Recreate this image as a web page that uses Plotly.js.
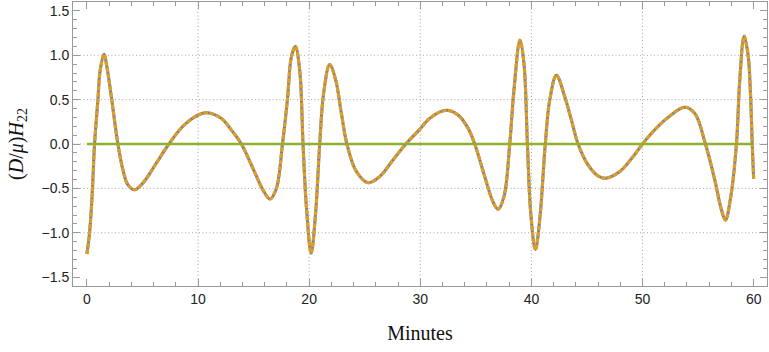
<!DOCTYPE html>
<html>
<head>
<meta charset="utf-8">
<script src="https://cdn.plot.ly/plotly-3.0.1.min.js"></script>
<style>
  html, body { margin: 0; padding: 0; background: #fff; }
  #chart { width: 769px; height: 352px; }
</style>
</head>
<body>
<div id="chart"></div>
<script>
// waveform (minutes, (D/mu) H22)
const minutes = [
  0, 0.24, 0.48, 0.69, 0.99, 1.2, 1.55, 1.8, 2.22, 2.79, 3.24, 3.69, 4.29, 5.04, 6.24, 7.38, 8.64, 9.99,
  10.8, 12.1, 13.0, 13.9, 14.94, 15.84, 16.47, 17.05, 17.6, 18.04, 18.4, 18.76, 19.15, 19.45, 19.75, 20.18,
  20.58, 20.95, 21.3, 21.85, 22.39, 22.9, 23.4, 24.25, 25.29, 26.35, 27.54, 28.7, 29.95, 30.85,
  32.3, 33.4, 34.3, 34.9, 35.8, 36.54, 37.0, 37.53, 38.05, 38.43, 38.97, 39.33, 39.64, 39.94, 40.36,
  40.75, 41.25, 41.65, 42.25, 43.0, 43.6, 44.2, 45.1, 46.0, 46.7, 47.95, 49.14, 50.0, 51.1,
  52.3, 53.8, 54.7, 55.66, 56.5, 57.1, 57.46, 57.94, 58.45, 58.75, 59.14, 59.5, 59.72, 59.87, 60
];
const h22 = [
  -1.24, -1.0, -0.555, 0, 0.495, 0.833, 1.01, 0.87, 0.514, 0, -0.29, -0.46, -0.515, -0.44, -0.217, 0, 0.2, 0.326,
  0.352, 0.289, 0.157, 0, -0.274, -0.517, -0.619, -0.5, 0, 0.495, 0.98, 1.10, 0.832, 0, -0.705, -1.23,
  -0.78, 0, 0.57, 0.896, 0.72, 0.345, 0, -0.31, -0.435, -0.367, -0.18, 0, 0.165, 0.289,
  0.38, 0.326, 0.177, 0, -0.367, -0.65, -0.735, -0.593, 0, 0.607, 1.17, 0.908, 0, -0.78, -1.19,
  -0.85, 0, 0.495, 0.776, 0.532, 0.27, 0, -0.236, -0.36, -0.385, -0.31, -0.143, 0, 0.16,
  0.3, 0.415, 0.345, 0, -0.405, -0.742, -0.858, -0.593, 0, 0.72, 1.215, 1.0, 0.55, 0, -0.39
];
const zeroX = [0, 60];
const zeroY = [0, 0];
const gridX = [10, 20, 30, 40, 50];
const gridY = [-1, -0.5, 0, 0.5, 1];

const frameColor = "#9a9a9a";
const labelFont = { family: "'Liberation Sans', Arial, sans-serif", size: 14, color: "#222" };
const titleFont = { family: "'Liberation Serif', 'Times New Roman', serif", size: 20, color: "#111" };

const traces = [
  {
    x: minutes, y: h22, mode: "lines", type: "scatter",
    line: { color: "#5E81B5", width: 3, shape: "spline", smoothing: 1 },
    hoverinfo: "skip"
  },
  {
    x: minutes, y: h22, mode: "lines", type: "scatter",
    line: { color: "#E19C24", width: 3.2, shape: "spline", smoothing: 1, dash: "5px,1.3px" },
    hoverinfo: "skip"
  },
  {
    x: zeroX, y: zeroY, mode: "lines", type: "scatter",
    line: { color: "#8FB131", width: 2.6 },
    hoverinfo: "skip"
  }
];

const gridStyle = { color: "#a8a8a8", width: 1, dash: "1px,2.5px" };
const shapes = gridX.map((g) => ({
  type: "line", layer: "below", xref: "x", yref: "paper", x0: g, x1: g, y0: 0, y1: 1, line: gridStyle
})).concat(gridY.map((g) => ({
  type: "line", layer: "below", xref: "paper", yref: "y", x0: 0, x1: 1, y0: g, y1: g, line: gridStyle
})));

const layout = {
  width: 769, height: 352,
  margin: { l: 73, r: 2, t: 2, b: 66 },
  paper_bgcolor: "#fff", plot_bgcolor: "#fff",
  showlegend: false,
  shapes: shapes,
  xaxis: {
    range: [-1.25, 61.2],
    tickvals: [0, 10, 20, 30, 40, 50, 60],
    ticks: "inside", ticklen: 7, tickcolor: frameColor, tickwidth: 1,
    minor: { dtick: 2, tick0: 0, ticks: "inside", ticklen: 4, tickcolor: frameColor, showgrid: false },
    showline: true, linecolor: frameColor, linewidth: 1, mirror: "ticks",
    showgrid: false, zeroline: false,
    tickfont: labelFont,
    title: { text: "Minutes", font: titleFont, standoff: 20 }
  },
  yaxis: {
    range: [-1.6, 1.6],
    tickvals: [-1.5, -1, -0.5, 0, 0.5, 1, 1.5],
    tickformat: ".1f",
    ticks: "inside", ticklen: 7, tickcolor: frameColor, tickwidth: 1,
    minor: { dtick: 0.1, tick0: 0, ticks: "inside", ticklen: 4, tickcolor: frameColor, showgrid: false },
    showline: true, linecolor: frameColor, linewidth: 1, mirror: "ticks",
    showgrid: false, zeroline: false,
    tickfont: labelFont,
    title: { text: "(<i>D</i>/<i>μ</i>)<i>H</i><sub>22</sub>", font: titleFont, standoff: 12 }
  }
};

Plotly.newPlot("chart", traces, layout, { staticPlot: true, displayModeBar: false });
</script>
</body>
</html>
